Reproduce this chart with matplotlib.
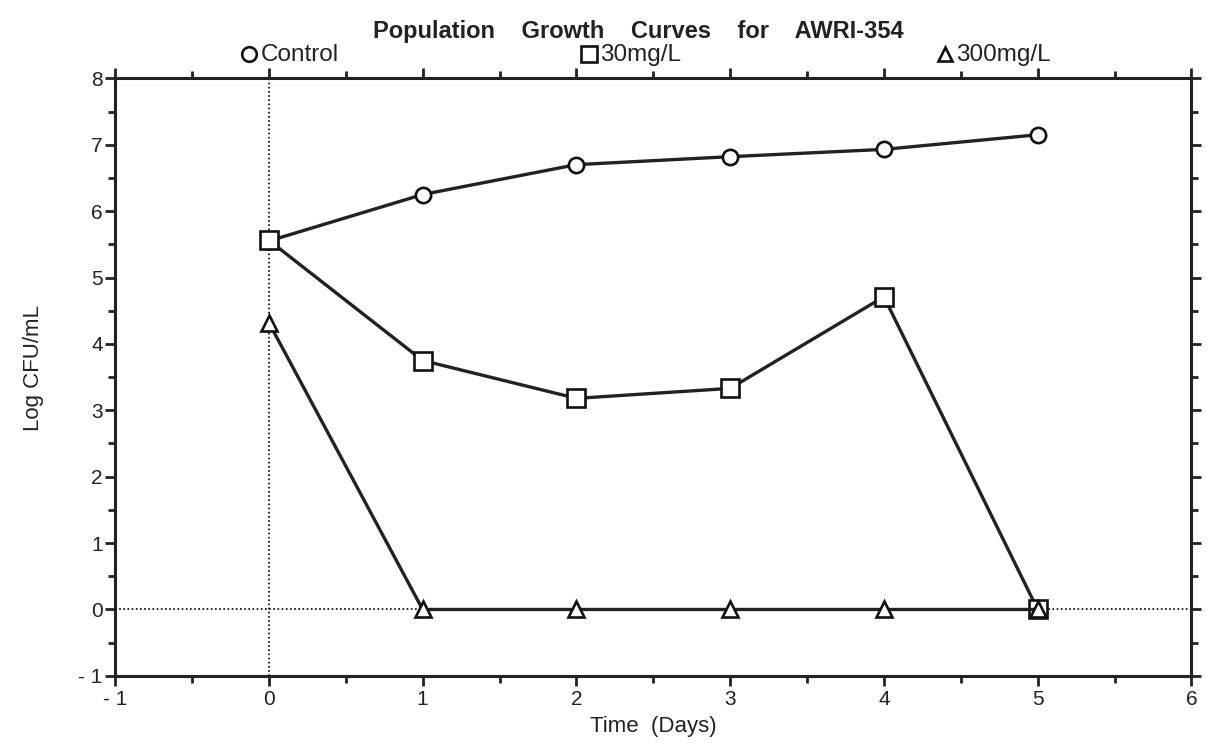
import matplotlib.pyplot as plt
from matplotlib.ticker import FuncFormatter, MultipleLocator

plt.rcParams['font.family'] = ['Liberation Sans', 'DejaVu Sans']

days = [0, 1, 2, 3, 4, 5]
control = [5.55, 6.25, 6.70, 6.82, 6.93, 7.15]
mg30 = [5.56, 3.75, 3.18, 3.33, 4.71, 0.0]
mg300 = [4.32, 0.0, 0.0, 0.0, 0.0, 0.0]

series = [
    ("Control", control, 'o', 11),
    ("30mg/L", mg30, 's', 12.5),
    ("300mg/L", mg300, '^', 11),
]
# legend entries along the top: (marker x, text x) in figure fraction
legend_pos = [(0.2055, 0.2155), (0.486, 0.4955), (0.780, 0.789)]

fig = plt.figure(figsize=(12.12, 7.46), dpi=100)
ax = fig.add_axes([0.095, 0.094, 0.888, 0.801])

ax.axvline(0, color='black', lw=1.2, ls=(0, (1, 1.5)), zorder=1)
ax.axhline(0, color='black', lw=1.2, ls=(0, (1, 1.5)), zorder=1)

for name, vals, mk, ms in series:
    ax.plot(days, vals, color='#222222', lw=2.4, marker=mk, markersize=ms,
            markerfacecolor='white', markeredgecolor='#111111',
            markeredgewidth=1.9, zorder=3)

ax.set_xlim(-1, 6)
ax.set_ylim(-1, 8)
ax.xaxis.set_major_locator(MultipleLocator(1))
ax.yaxis.set_major_locator(MultipleLocator(1))
ax.xaxis.set_minor_locator(MultipleLocator(0.5))
ax.yaxis.set_minor_locator(MultipleLocator(0.5))

fmt = FuncFormatter(lambda v, p: f"- {abs(int(round(v)))}" if v < 0 else f"{int(round(v))}")
ax.xaxis.set_major_formatter(fmt)
ax.yaxis.set_major_formatter(fmt)

ax.tick_params(which='both', direction='out', top=True, right=True,
               labeltop=False, labelright=False, width=2, labelsize=15,
               color='#222222', labelcolor='#222222')
ax.tick_params(which='major', length=7)
ax.tick_params(which='minor', length=5)
ax.tick_params(axis='x', pad=3)
ax.tick_params(axis='y', pad=2)
for s in ax.spines.values():
    s.set_linewidth(2.2)
    s.set_color('#222222')

ax.set_xlabel("Time  (Days)", fontsize=16, color='#222222')
ax.xaxis.set_label_coords(0.5, -0.067)
ax.set_ylabel("Log CFU/mL", fontsize=16, color='#222222')
ax.yaxis.set_label_coords(-0.066, 0.515)

fig.text(0.5265, 0.958, "Population    Growth    Curves    for    AWRI-354",
         ha='center', va='center', fontsize=17, fontweight='bold', color='#222222')

for (name, vals, mk, ms), (mx, tx) in zip(series, legend_pos):
    fig.add_artist(plt.Line2D([mx], [0.928], marker=mk, markersize=ms - 0.5,
                              markerfacecolor='white', markeredgecolor='#111111',
                              markeredgewidth=1.9, transform=fig.transFigure))
    fig.text(tx, 0.926, name, ha='left', va='center', fontsize=17.5, color='#222222')

fig.savefig("out.png", dpi=100, facecolor='white')
